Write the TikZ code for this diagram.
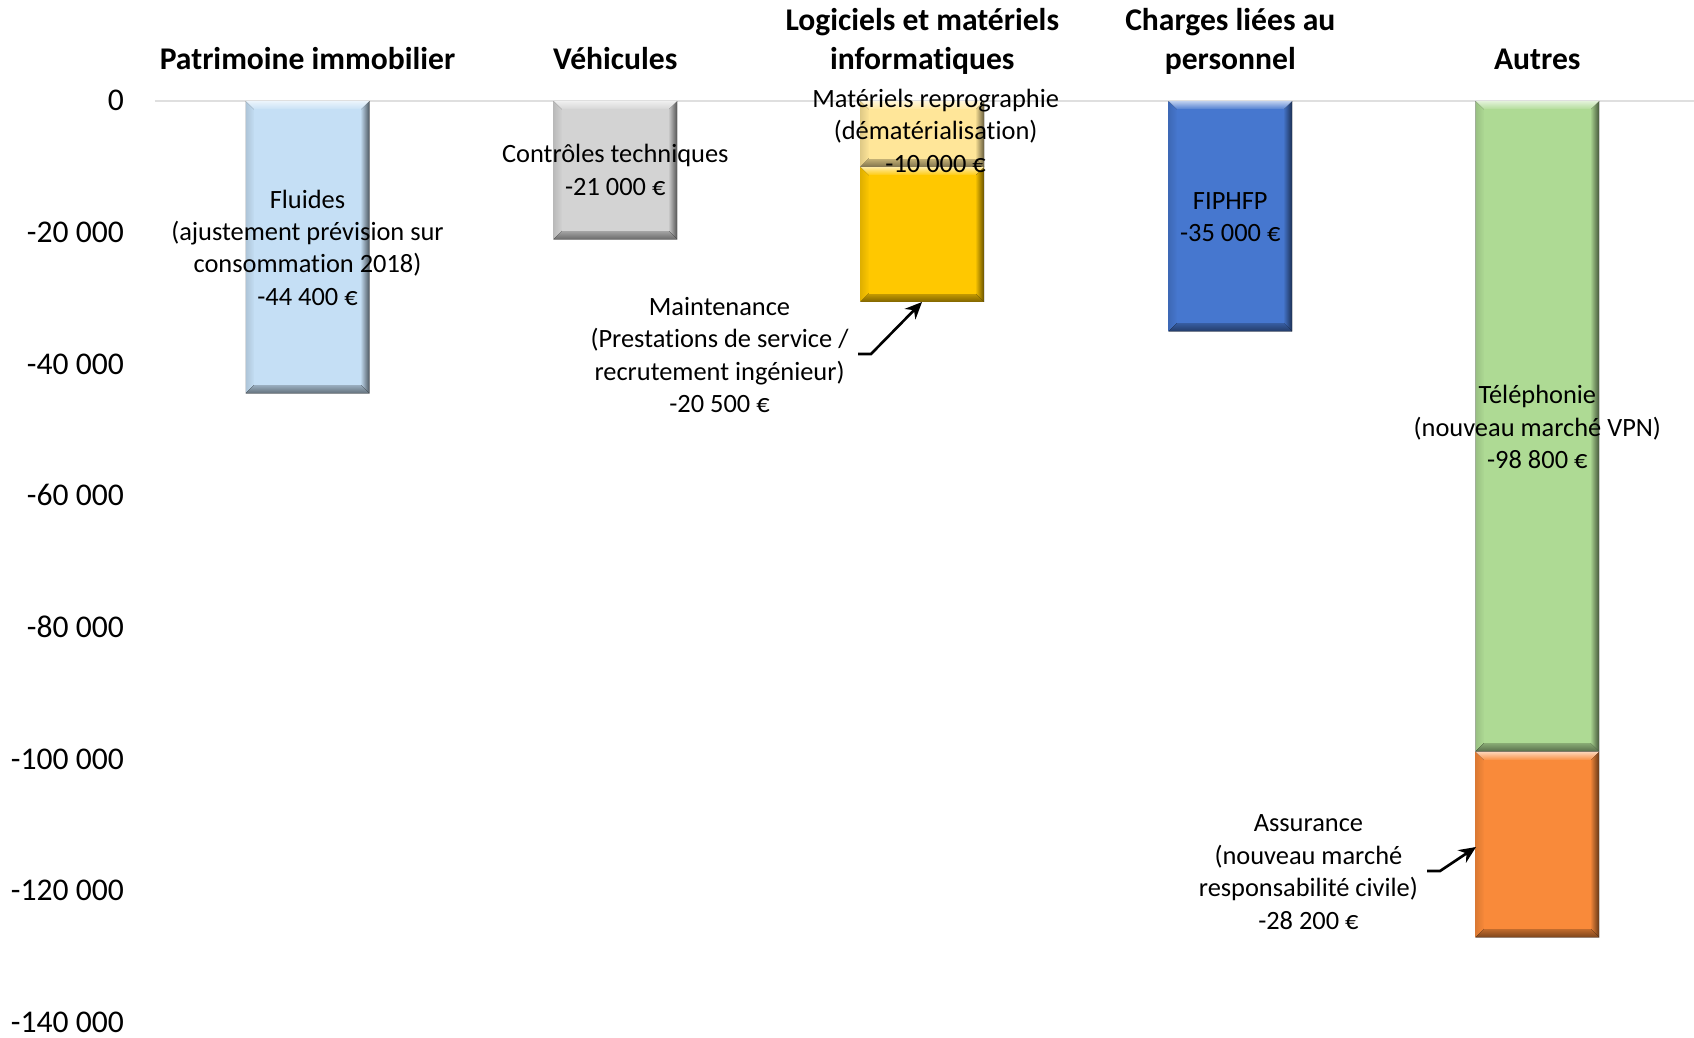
\documentclass[tikz,border=0pt]{standalone}
\usepackage{fontspec}
\setmainfont{Carlito}[Ligatures=NoCommon]
\usetikzlibrary{arrows.meta}

\definecolor{fluides}{HTML}{C5DFF5}
\definecolor{controles}{HTML}{D3D3D3}
\definecolor{repro}{HTML}{FFE699}
\definecolor{maint}{HTML}{FFC800}
\definecolor{fiphfp}{HTML}{4677CF}
\definecolor{telephonie}{HTML}{AEDA94}
\definecolor{assurance}{HTML}{F98A3A}

\begin{document}
\begin{tikzpicture}[x=1pt,y=-1pt,
	axislbl/.style={anchor=base east,inner sep=0pt,font=\fontsize{31.6}{38.6}\selectfont},
	cattitle/.style={anchor=north,align=center,inner sep=0pt,font=\fontsize{31.6}{38.6}\selectfont\bfseries},
	datalbl/.style={anchor=north,align=center,inner sep=0pt,font=\fontsize{26.4}{32.4}\selectfont},
	callout/.style={line width=2.6pt,-{Stealth[length=17pt,width=15pt]}}]
	\useasboundingbox (0,0) rectangle (1694,1037);

%	\draw[gray!40] (0,0) grid[step=100] (1694,1037);
	\draw[gray!25,line width=1.5pt] (154.5,101) -- (1694,101);

	% axe vertical
	\foreach \v [count=\i from 0] in {0,-20 000,-40 000,-60 000,-80 000,-100 000,-120 000,-140 000}
		\node[axislbl] (ax\i) at (124,{110.7+\i*131.7}) {\v};

	% barres (centre / haut / bas en milliers / couleur)
	\foreach \cx/\ya/\yb/\col in {307.5/0/44.4/fluides, 615.3/0/21/controles,
			922.3/0/10/repro, 922.3/10/30.5/maint, 1230.3/0/35/fiphfp,
			1537.3/0/98.8/telephonie, 1537.3/98.8/127/assurance}{
		\pgfmathsetmacro{\l}{\cx-61.75}
		\pgfmathsetmacro{\r}{\cx+61.75}
		\pgfmathsetmacro{\t}{101+\ya*6.585}
		\pgfmathsetmacro{\b}{101+\yb*6.585}
		\fill[left color=\col!88!black,right color=\col] (\l,\t) -- (\l+9,\t+9)
			-- (\l+9,\b-9) -- (\l,\b) -- cycle;
		\fill[left color=\col,right color=\col!40!black] (\r,\t) -- (\r-9,\t+9)
			-- (\r-9,\b-9) -- (\r,\b) -- cycle;
		\fill[top color=\col!35!white,bottom color=\col] (\l,\t) -- (\r,\t)
			-- (\r-9,\t+9) -- (\l+9,\t+9) -- cycle;
		\fill[top color=\col!80!black,bottom color=\col!50!black] (\l,\b) -- (\r,\b)
			-- (\r-9,\b-9) -- (\l+9,\b-9) -- cycle;
		\fill[\col] (\l+8.3,\t+8.3) rectangle (\r-8.3,\b-8.3);
	}

	% titres
	\node[cattitle] (t-patrimoine) at (307.5,42) {\strut Patrimoine immobilier};
	\node[cattitle] (t-vehicules) at (615.3,42) {\strut Véhicules};
	\node[cattitle] (t-logiciels) at (922.3,3.5) {\strut Logiciels et matériels\\informatiques};
	\node[cattitle] (t-charges) at (1230.3,3.5) {\strut Charges liées au\\personnel};
	\node[cattitle] (t-autres) at (1537.3,42) {\strut Autres};

	% etiquettes
	\node[datalbl] (fluides) at (307.5,185.3) {\strut Fluides\\(ajustement prévision sur\\consommation 2018)\\-44 400 €\strut};
	\node[datalbl] (controles) at (615.3,140) {\strut Contrôles techniques\\-21 000 €\strut};
	\node[datalbl] (repro) at (935.6,84.6) {\strut Matériels reprographie\\(dématérialisation)\\-10 000 €\strut};
	\node[datalbl] (maint) at (719.5,292.5) {\strut Maintenance\\(Prestations de service /\\recrutement ingénieur)\\-20 500 €\strut};
	\node[datalbl] (fiphfp) at (1230.3,186.3) {\strut FIPHFP\\-35 000 €\strut};
	\node[datalbl] (telephonie) at (1537.3,381.1) {\strut Téléphonie\\(nouveau marché VPN)\\-98 800 €\strut};
	\node[datalbl] (assurance) at (1308.4,809) {\strut Assurance\\(nouveau marché\\responsabilité civile)\\-28 200 €\strut};

	% fleches
	\coordinate (maint-from) at (858,354);
	\coordinate (maint-bend) at (871,354);
	\coordinate (maint-to) at (922,302);
	\draw[callout] (maint-from) -- (maint-bend) -- (maint-to);
	\coordinate (assur-from) at (1427,871);
	\coordinate (assur-bend) at (1440,871);
	\coordinate (assur-to) at (1476,847);
	\draw[callout] (assur-from) -- (assur-bend) -- (assur-to);
\end{tikzpicture}
\end{document}
